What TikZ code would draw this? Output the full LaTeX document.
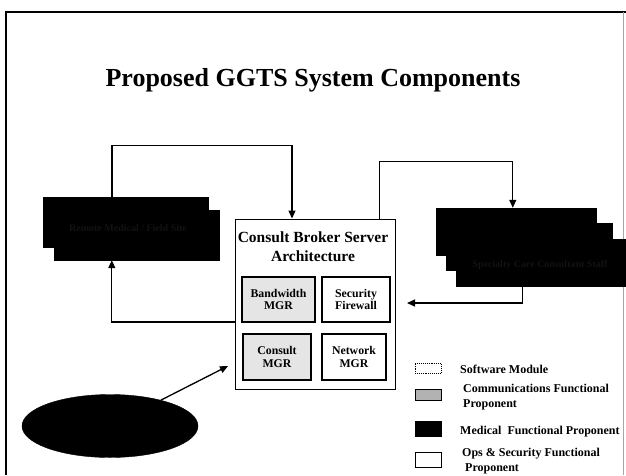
\documentclass[tikz,border=0pt]{standalone}
\usepackage{fontspec}
\setmainfont{Liberation Serif}
\usetikzlibrary{arrows.meta,shapes.geometric}
\begin{document}
\begin{tikzpicture}[x=1pt,y=-1pt,
  conn/.style={line width=1.3pt,-{Triangle[length=8pt,width=7pt]}},
  medbox/.style={draw=black,fill=black,rectangle,inner sep=0pt},
  modbox/.style={draw=black,line width=1.2pt,rectangle,inner sep=0pt,
    font=\fontsize{11.8}{12.5}\selectfont\bfseries,align=center},
  commfill/.style={fill=black!10},
  legbox/.style={draw=black,line width=0.9pt,rectangle,inner sep=0pt,
    minimum width=26pt},
  legtext/.style={anchor=west,font=\fontsize{12}{15}\selectfont\bfseries,
    align=left,inner sep=0pt},
  hidden/.style={text=black!93!white,font=\fontsize{10}{12}\selectfont\bfseries}]
\useasboundingbox (0,0) rectangle (626,475);
\fill[white] (0,0) rectangle (626,475);

% slide frame
\draw[line width=2pt] (6,475) -- (6,12) -- (626,12);
\draw[black!35,line width=0.5pt] (623,12) -- (623,475);

% title
\node[font=\fontsize{26}{30}\selectfont\bfseries] (title) at (313,80)
  {Proposed GGTS System Components};

% remote site stack (medical)
\node[medbox,minimum width=165pt,minimum height=50pt] (A2) at (136.5,235) {};
\node[medbox,minimum width=165pt,minimum height=50pt] (A1) at (125.5,222) {};
\node[hidden] (Atext) at (128,228) {Remote Medical / Field Site};

% specialist stack (medical)
\node[medbox,minimum width=160pt,minimum height=47pt] (B1) at (516,231.5) {};
\node[medbox,minimum width=166pt,minimum height=47pt] (B2) at (529,246.5) {};
\node[medbox,minimum width=170pt,minimum height=47pt] (B3) at (541,262.5) {};
\node[hidden] (Btext) at (540,265) {Specialty Care Consultant Staff};

% consult broker server
\node[draw=black,line width=1pt,rectangle,minimum width=160pt,
  minimum height=170pt,inner sep=0pt] (C) at (315,304) {};
\node[font=\fontsize{15.5}{19}\selectfont\bfseries,align=center] (Ctitle)
  at (313,247) {Consult Broker Server\\Architecture};
\node[modbox,commfill,minimum width=73pt,minimum height=45pt] (BW)
  at (278.5,299.5) {Bandwidth\\MGR};
\node[modbox,minimum width=68pt,minimum height=45pt] (SF)
  at (356,299.5) {Security\\Firewall};
\node[modbox,commfill,minimum width=68pt,minimum height=46pt] (CM)
  at (277,357) {Consult\\MGR};
\node[modbox,minimum width=64pt,minimum height=46pt] (NW)
  at (354,357) {Network\\MGR};

% patient ellipse (medical)
\node[ellipse,fill=black,draw=black,minimum width=176pt,minimum height=63pt,
  inner sep=0pt] (E) at (110,426) {};

% free arrow ends
\coordinate (fwtip) at (407,303);
\coordinate (etip) at (228,366);

% connectors
\draw[conn] ([xshift=-13.5pt]A1.north) -- ++(0,-51) -| ([xshift=-23pt]C.north);
\draw[conn] ([yshift=-18pt]C.west) -| ([xshift=58pt]A2.south west);
\draw[conn] ([xshift=-16pt]C.north east) -- ++(0,-57) -| ([xshift=77pt]B1.north west);
\draw[conn] ([xshift=67pt]B3.south west) |- (fwtip);
\draw[conn] (E) -- (etip);

% legend
\node[legbox,densely dotted,minimum height=10pt] (L1) at (428,368) {};
\node[legbox,fill=black!30,minimum height=11pt] (L2) at (428,394.5) {};
\node[legbox,fill=black,minimum height=15pt] (L3) at (428,428.5) {};
\node[legbox,minimum height=15pt] (L4) at (428,459.5) {};
\node[legtext] (T1) at (460,369) {Software Module};
\node[legtext] (T2) at (463,397.5) {Communications Functional\\Proponent};
\node[legtext] (T3) at (460,432) {Medical\ \ Functional Proponent};
\node[legtext] (T4) at (462,461.5) {Ops \& Security Functional\\\ Proponent};
\end{tikzpicture}
\end{document}
